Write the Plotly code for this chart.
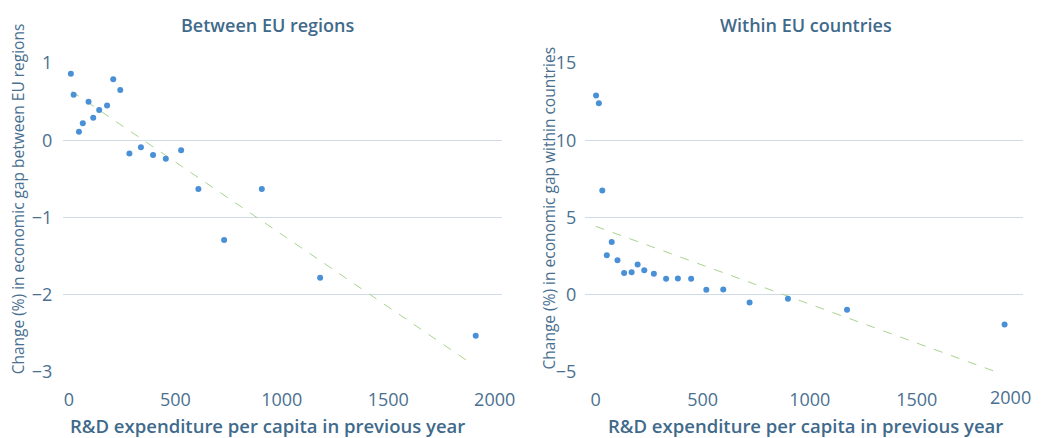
import plotly.graph_objects as go

# R&D expenditure per capita (previous year) and change in economic gap
regions_rd = [9, 22, 47, 65, 92, 114, 142, 179, 208, 241,
              284, 338, 395, 455, 527, 608, 729, 906, 1180, 1911]
regions_gap = [0.86, 0.59, 0.11, 0.22, 0.50, 0.29, 0.39, 0.45, 0.79, 0.65,
               -0.17, -0.09, -0.19, -0.24, -0.13, -0.63, -1.29, -0.63, -1.78, -2.53]

countries_rd = [2, 15, 31, 52, 75, 102, 133, 168, 196, 227,
                272, 329, 384, 446, 517, 596, 719, 898, 1174, 1910]
countries_gap = [12.9, 12.39, 6.74, 2.56, 3.42, 2.24, 1.40, 1.46, 1.96, 1.59,
                 1.36, 1.03, 1.05, 1.03, 0.32, 0.34, -0.50, -0.26, -0.97, -1.92]

# fitted linear trends (start and end points)
regions_trend_rd = [12, 1890]
regions_trend_gap = [0.634, -2.89]
countries_trend_rd = [0, 1864]
countries_trend_gap = [4.43, -4.96]

panel_titles = ["Between EU regions", "Within EU countries"]
y_titles = ["Change (%) in economic gap between EU regions",
            "Change (%) in economic gap within countries"]
x_title = "R&D expenditure per capita in previous year"
x_ticks = [0, 500, 1000, 1500, 2000]

DOT = "#4a90d6"
TREND = "#a8d38c"
TEXT = "#4a7090"
TITLE = "#3f6a8b"
GRID = "#cfdce8"
FONT = "Open Sans"

W, H = 1048, 438
ML, MR, MT, MB = 63, 17, 63, 66
PW, PH = W - ML - MR, H - MT - MB


def px_x(p):
    return (p - ML) / PW


def px_y(p):
    return (H - MB - p) / PH


fig = go.Figure()

panels = [
    (regions_rd, regions_gap, regions_trend_rd, regions_trend_gap, "x", "y"),
    (countries_rd, countries_gap, countries_trend_rd, countries_trend_gap, "x2", "y2"),
]
for xv, yv, tx, ty, xa, ya in panels:
    fig.add_trace(go.Scatter(x=tx, y=ty, mode="lines", xaxis=xa, yaxis=ya,
                             line=dict(color=TREND, width=1, dash="dash"),
                             hoverinfo="skip", showlegend=False))
    fig.add_trace(go.Scatter(x=xv, y=yv, mode="markers", xaxis=xa, yaxis=ya,
                             marker=dict(color=DOT, size=6),
                             showlegend=False))

axis_common = dict(showline=False, zeroline=False,
                   tickfont=dict(family=FONT, size=18, color=TEXT))

fig.update_layout(
    width=W, height=H,
    margin=dict(l=ML, r=MR, t=MT, b=MB),
    paper_bgcolor="white", plot_bgcolor="white",
    font=dict(family=FONT, color=TEXT),
    xaxis=dict(domain=[0, px_x(506)], range=[-28, 2036], tickvals=x_ticks,
               showgrid=False, ticks="outside", ticklen=11, tickcolor="rgba(0,0,0,0)",
               **axis_common),
    yaxis=dict(range=[-3, 1], tickvals=[-3, -2, -1, 0, 1], showgrid=True,
               gridcolor=GRID, gridwidth=1, ticks="outside", ticklen=6,
               tickcolor="rgba(0,0,0,0)", **axis_common),
    xaxis2=dict(domain=[px_x(589.3), 1], range=[-50, 1996], tickvals=x_ticks,
                ticktext=["0", "500", "1000", "1500", ""], anchor="y2",
                showgrid=False, ticks="outside", ticklen=11, tickcolor="rgba(0,0,0,0)",
                **axis_common),
    yaxis2=dict(range=[-5, 15], tickvals=[-5, 0, 5, 10, 15], anchor="x2",
                showgrid=True, gridcolor=GRID, gridwidth=1, ticks="outside",
                ticklen=4, tickcolor="rgba(0,0,0,0)", **axis_common),
)

ann = []
# panel titles
for txt, cx in zip(panel_titles, [269.5, 812]):
    ann.append(dict(text=txt, x=px_x(cx), y=px_y(25), xref="paper", yref="paper",
                    showarrow=False, xanchor="center", yanchor="middle",
                    font=dict(family=FONT, size=18, color=TITLE, weight=600)))
# x-axis titles
for cx in [269.5, 812]:
    ann.append(dict(text=x_title, x=px_x(cx), y=px_y(425), xref="paper", yref="paper",
                    showarrow=False, xanchor="center", yanchor="middle",
                    font=dict(family=FONT, size=18.5, color=TITLE, weight=600)))
# y-axis titles
for txt, cx, cy in zip(y_titles, [18, 553], [199, 207.5]):
    ann.append(dict(text=txt, x=px_x(cx), y=px_y(cy), xref="paper", yref="paper",
                    showarrow=False, xanchor="center", yanchor="middle", textangle=-90,
                    font=dict(family=FONT, size=15.5, color=TEXT)))
# last tick label of the right panel, kept inside the canvas
ann.append(dict(text="2000", x=px_x(1018), y=px_y(397), xref="paper", yref="paper",
                showarrow=False, xanchor="center", yanchor="middle",
                font=dict(family=FONT, size=18, color=TEXT)))
fig.update_layout(annotations=ann)

fig.write_html("out.html")
